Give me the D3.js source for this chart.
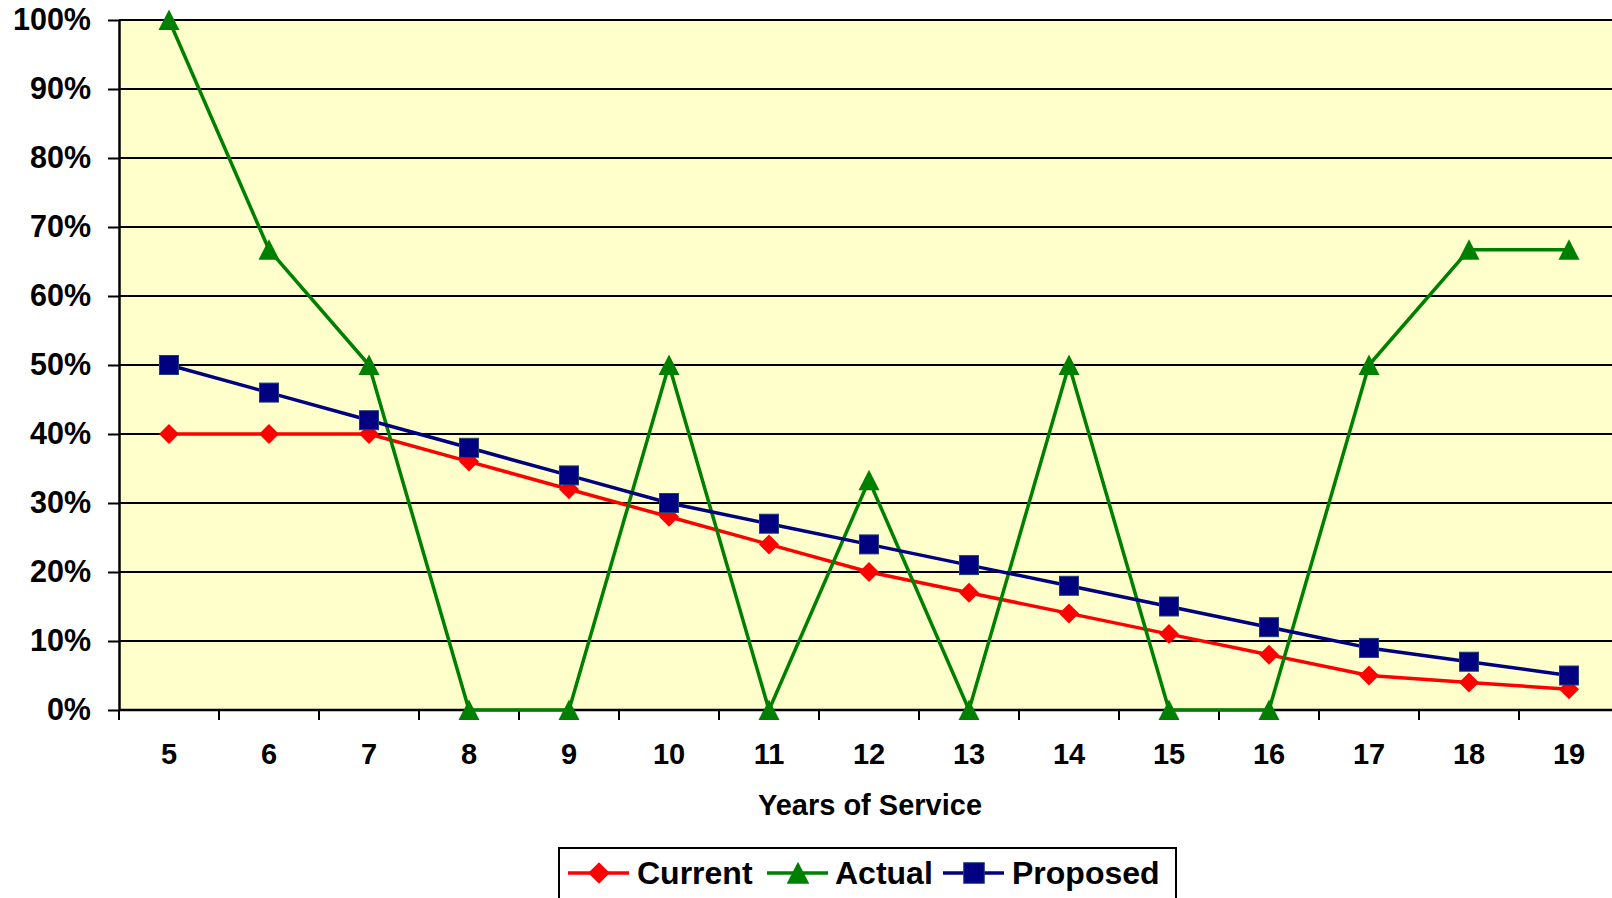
<!DOCTYPE html>
<html><head><meta charset="utf-8">
<script src="https://cdn.jsdelivr.net/npm/d3@7"></script>
<style>body{margin:0;background:#fff;overflow:hidden}svg{display:block;font-family:Arial,"Liberation Sans",sans-serif;font-weight:bold}</style>
</head><body>
<script>
const years = ["5","6","7","8","9","10","11","12","13","14","15","16","17","18","19"];
const current = [40,40,40,36,32,28,24,20,17,14,11,8,5,4,3];
const actual = [100,66.7,50,0,0,50,0,33.3,0,50,0,0,50,66.7,66.7];
const proposed = [50,46,42,38,34,30,27,24,21,18,15,12,9,7,5];
const yTicks = [0,10,20,30,40,50,60,70,80,90,100];
const seriesNames = ["Current","Actual","Proposed"];

const W = 1612, H = 898;
const L = 119, T = 20, B = 710, R = 1619;
const svg = d3.select("body").append("svg").attr("width", W).attr("height", H);
const x = d3.scaleBand().domain(years).range([L, R]);
const y = d3.scaleLinear().domain([0, 100]).range([B, T]);
const FF = "Arial, 'Liberation Sans', sans-serif";

svg.append("rect").attr("x", L).attr("y", T).attr("width", R - L).attr("height", B - T).attr("fill", "#FFFFCC");

// gridlines
svg.append("g").selectAll("line").data(yTicks.filter(d => d > 0)).join("line")
  .attr("x1", L).attr("x2", R).attr("y1", d => y(d)).attr("y2", d => y(d))
  .attr("stroke", "#000").attr("stroke-width", 2);

// y axis
const yAxis = svg.append("g").attr("transform", `translate(${L},0)`)
  .call(d3.axisLeft(y).tickValues(yTicks).tickFormat(d => d + "%").tickSizeInner(11).tickSizeOuter(0).tickPadding(17));
yAxis.select(".domain").attr("stroke", "#000").attr("stroke-width", 2.5);
yAxis.selectAll(".tick line").attr("stroke", "#000").attr("stroke-width", 2);
yAxis.selectAll("text").attr("font-size", 30.5).attr("font-weight", "bold").attr("fill", "#000").attr("font-family", FF);

// x axis
const xAxis = svg.append("g").attr("transform", `translate(0,${B})`)
  .call(d3.axisBottom(x).tickSize(0).tickPadding(33));
xAxis.select(".domain").remove();
xAxis.selectAll("text").attr("font-size", 29).attr("font-weight", "bold").attr("fill", "#000").attr("font-family", FF);
svg.append("line").attr("x1", L).attr("x2", R).attr("y1", B).attr("y2", B).attr("stroke", "#000").attr("stroke-width", 2.5);
svg.append("g").selectAll("line").data(years).join("line")
  .attr("x1", d => x(d)).attr("x2", d => x(d)).attr("y1", B).attr("y2", B + 10)
  .attr("stroke", "#000").attr("stroke-width", 2);

svg.append("text").attr("x", (L + R) / 2 + 1).attr("y", 815).attr("text-anchor", "middle")
  .attr("font-size", 29).attr("fill", "#000").text("Years of Service");

const cx = d => x(d) + x.bandwidth() / 2;
const line = d3.line().x((d, i) => cx(years[i])).y(d => y(d));

const diamond = (s) => `M0,${-s}L${s},0L0,${s}L${-s},0Z`;
const triangle = (s) => `M0,${-s}L${s},${s * 0.95}L${-s},${s * 0.95}Z`;

function drawMarker(g, marker, color, px, py, big) {
  const k = big ? 1.08 : 1;
  if (marker === "diamond") g.append("path").attr("d", diamond(10 * k)).attr("transform", `translate(${px},${py})`).attr("fill", color);
  else if (marker === "triangle") g.append("path").attr("d", triangle(10.5 * k)).attr("transform", `translate(${px},${py})`).attr("fill", color);
  else g.append("rect").attr("x", px - 9.5 * k).attr("y", py - 9.5 * k).attr("width", 19 * k).attr("height", 19 * k).attr("fill", color).attr("stroke", "#1F3F6F").attr("stroke-width", 1);
}

function drawSeries(vals, color, marker) {
  svg.append("path").datum(vals).attr("d", line).attr("fill", "none").attr("stroke", color).attr("stroke-width", 3.5).attr("stroke-linejoin", "round");
  const g = svg.append("g");
  vals.forEach((v, i) => drawMarker(g, marker, color, cx(years[i]), y(v), false));
}
drawSeries(current, "#FF0000", "diamond");
drawSeries(actual, "#008000", "triangle");
drawSeries(proposed, "#000080", "square");

// legend
const lg = svg.append("g");
lg.append("rect").attr("x", 559).attr("y", 848).attr("width", 617).attr("height", 80).attr("fill", "#fff").attr("stroke", "#000").attr("stroke-width", 2);
const legendItems = [
  {name: seriesNames[0], color: "#FF0000", marker: "diamond", lx: 568, tx: 637},
  {name: seriesNames[1], color: "#008000", marker: "triangle", lx: 767, tx: 835},
  {name: seriesNames[2], color: "#000080", marker: "square", lx: 943, tx: 1012}
];
legendItems.forEach(it => {
  const ly = 873;
  lg.append("line").attr("x1", it.lx).attr("x2", it.lx + 61).attr("y1", ly).attr("y2", ly).attr("stroke", it.color).attr("stroke-width", 3.5);
  drawMarker(lg, it.marker, it.color, it.lx + 31, ly, true);
  lg.append("text").attr("x", it.tx).attr("y", 884).attr("font-size", 32).attr("fill", "#000").text(it.name);
});
</script>
</body></html>
